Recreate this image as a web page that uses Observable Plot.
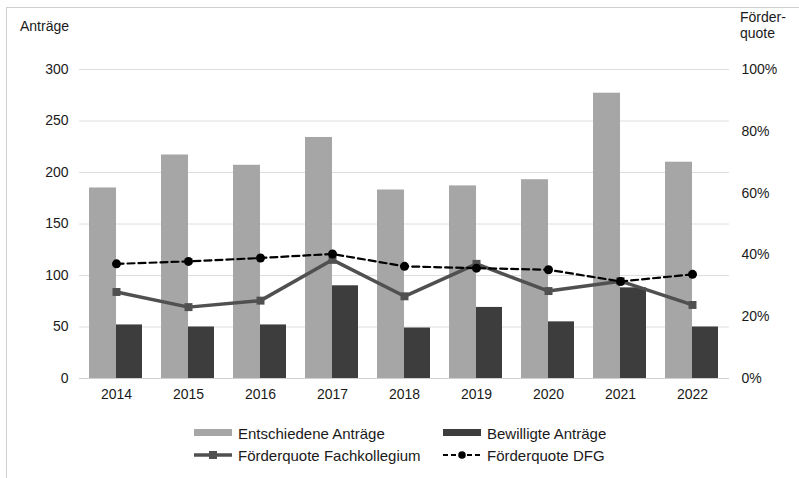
<!DOCTYPE html>
<html>
<head>
<meta charset="utf-8">
<script src="https://cdn.jsdelivr.net/npm/d3@7"></script>
<script src="https://cdn.jsdelivr.net/npm/@observablehq/plot@0.6"></script>
<style>
  html, body { margin: 0; padding: 0; background: #fff; }
  body { width: 799px; height: 478px; position: relative; overflow: hidden;
         font-family: "Liberation Sans", Arial, sans-serif; color: #1a1a1a; }
  #frame { position: absolute; left: 6px; top: 7px; right: -2px; bottom: -2px;
           border-top: 1.5px solid #d0d0d0; border-left: 1.5px solid #d0d0d0; }
  #chart { position: absolute; left: 0; top: 0; }
  .lbl { position: absolute; font-size: 14px; line-height: 16px; }
  .leg { position: absolute; font-size: 15px; display: flex; align-items: center; height: 18px; }
  .leg svg { margin-right: 6px; }
</style>
</head>
<body>
<div id="frame"></div>
<div id="chart"></div>
<div class="lbl" style="left:20px; top:18px;">Anträge</div>
<div class="lbl" style="left:740px; top:9px;">Förder-<br>quote</div>
<div id="legend"></div>
<script>
const years = ["2014","2015","2016","2017","2018","2019","2020","2021","2022"];
const entschieden = [185, 217, 207, 234, 183, 187, 193, 277, 210];
const bewilligt = [52, 50, 52, 90, 49, 69, 55, 88, 50];
const quoteFach = [28.0, 23.1, 25.2, 38.4, 26.6, 37.1, 28.3, 31.5, 23.8];
const quoteDFG = [37.1, 37.9, 39.0, 40.3, 36.3, 35.7, 35.2, 31.4, 33.7];
const leftTicks = [0, 50, 100, 150, 200, 250, 300];
const rightTicks = [0, 20, 40, 60, 80, 100];
const seriesNames = ["Entschiedene Anträge", "Bewilligte Anträge", "Förderquote Fachkollegium", "Förderquote DFG"];

const rows = years.map((y, i) => ({
  year: y, ent: entschieden[i], bew: bewilligt[i], fach: quoteFach[i], dfg: quoteDFG[i]
}));

const colLight = "#a6a6a6", colDark = "#3d3d3d", colFach = "#505050", colDFG = "#000";

const chart = Plot.plot({
  width: 799,
  height: 410,
  marginTop: 69,
  marginBottom: 32,
  marginLeft: 79,
  marginRight: 70,
  style: { fontFamily: "'Liberation Sans', Arial, sans-serif", fontSize: "14px", color: "#1a1a1a", background: "transparent" },
  x: { type: "band", domain: years, padding: 0, label: null },
  y: { domain: [0, 300], label: null },
  marks: [
    Plot.gridY(leftTicks.filter(d => d > 0), { stroke: "#dedede", strokeOpacity: 1, strokeWidth: 1 }),
    Plot.ruleY([0], { stroke: "#d0d0d0", strokeWidth: 1 }),
    Plot.barY(rows, { x: "year", y: "ent", fill: colLight, insetLeft: 9, insetRight: 36 }),
    Plot.barY(rows, { x: "year", y: "bew", fill: colDark, insetLeft: 36, insetRight: 10 }),
    Plot.line(rows, { x: "year", y: d => d.fach * 3, stroke: colFach, strokeWidth: 3.5 }),
    Plot.dot(rows, { x: "year", y: d => d.fach * 3, symbol: "square", r: 4.5, fill: colFach }),
    Plot.line(rows, { x: "year", y: d => d.dfg * 3, stroke: colDFG, strokeWidth: 2.2, strokeDasharray: "7,4" }),
    Plot.dot(rows, { x: "year", y: d => d.dfg * 3, r: 4.5, fill: colDFG }),
    Plot.axisY(leftTicks, { anchor: "left", tickSize: 0, tickPadding: 11, label: null }),
    Plot.axisY(rightTicks.map(d => d * 3), { anchor: "right", tickSize: 0, tickPadding: 12, label: null, tickFormat: d => (d / 3) + "%" }),
    Plot.axisX({ tickSize: 0, tickPadding: 11, label: null })
  ]
});
document.getElementById("chart").appendChild(chart);

// Legend
const legend = document.getElementById("legend");
const items = [
  { name: seriesNames[0], left: 194, top: 424, sw: `<rect x="0" y="5" width="38" height="7" fill="${colLight}"/>` },
  { name: seriesNames[1], left: 443, top: 424, sw: `<rect x="0" y="5" width="38" height="7" fill="${colDark}"/>` },
  { name: seriesNames[2], left: 194, top: 446, sw: `<line x1="0" x2="38" y1="9" y2="9" stroke="${colFach}" stroke-width="3.5"/><rect x="15" y="5" width="8" height="8" fill="${colFach}"/>` },
  { name: seriesNames[3], left: 443, top: 446, sw: `<line x1="0" x2="38" y1="9" y2="9" stroke="${colDFG}" stroke-width="2.2" stroke-dasharray="5,3"/><circle cx="19" cy="9" r="3.8" fill="${colDFG}"/>` }
];
for (const it of items) {
  const d = document.createElement("div");
  d.className = "leg";
  d.style.left = it.left + "px";
  d.style.top = it.top + "px";
  d.innerHTML = `<svg width="38" height="18">${it.sw}</svg><span>${it.name}</span>`;
  legend.appendChild(d);
}
</script>
</body>
</html>
